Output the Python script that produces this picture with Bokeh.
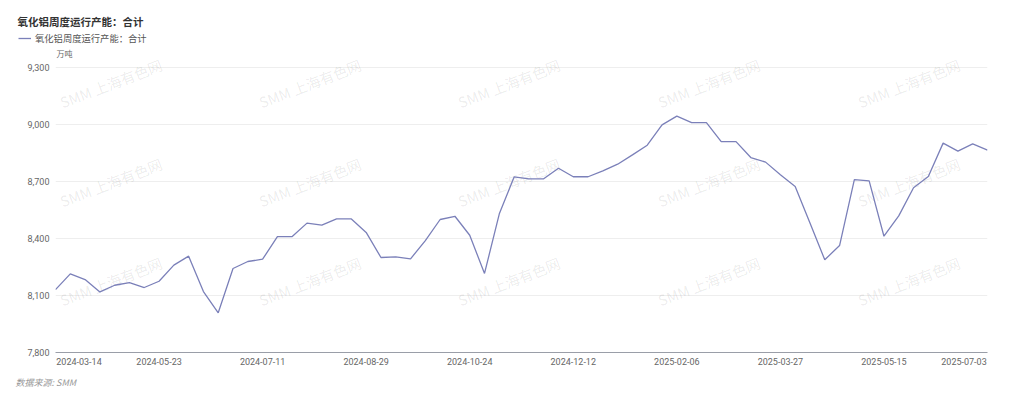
from bokeh.plotting import figure
from bokeh.layouts import column, row
from bokeh.models import Range1d, FixedTicker, Label, Legend, LegendItem, NumeralTickFormatter
from bokeh.embed import file_html
from bokeh.resources import INLINE

title_text = "氧化铝周度运行产能：合计"
series_name = "氧化铝周度运行产能：合计"
unit_text = "万吨"
source_text = "数据来源: SMM"
watermark_text = "SMM 上海有色网"

dates = [
    "2024-03-14", "2024-03-28", "2024-04-11", "2024-04-18", "2024-04-25", "2024-05-09", "2024-05-16", "2024-05-23",
    "2024-05-30", "2024-06-06", "2024-06-13", "2024-06-20", "2024-06-27", "2024-07-04", "2024-07-11",
    "2024-07-18", "2024-07-25", "2024-08-01", "2024-08-08", "2024-08-15", "2024-08-22", "2024-08-29",
    "2024-09-05", "2024-09-12", "2024-09-19", "2024-09-26", "2024-10-10", "2024-10-17", "2024-10-24",
    "2024-10-31", "2024-11-07", "2024-11-14", "2024-11-21", "2024-11-28", "2024-12-05", "2024-12-12",
    "2024-12-19", "2024-12-26", "2025-01-02", "2025-01-09", "2025-01-16", "2025-01-23", "2025-02-06",
    "2025-02-13", "2025-02-20", "2025-02-27", "2025-03-06", "2025-03-13", "2025-03-20", "2025-03-27",
    "2025-04-03", "2025-04-10", "2025-04-17", "2025-04-24", "2025-05-01", "2025-05-08", "2025-05-15",
    "2025-05-22", "2025-05-29", "2025-06-05", "2025-06-12", "2025-06-19", "2025-06-26", "2025-07-03",
]

values = [
    8131, 8214, 8184, 8119, 8154, 8168, 8142, 8175, 8260, 8307,
    8121, 8009, 8242, 8279, 8291, 8410, 8410, 8481, 8470, 8503,
    8503, 8432, 8300, 8303, 8293, 8389, 8500, 8517, 8417, 8216,
    8530, 8724, 8714, 8714, 8770, 8725, 8725, 8756, 8791, 8840,
    8891, 8998, 9044, 9010, 9010, 8910, 8910, 8826, 8802, 8735,
    8674, 8481, 8288, 8363, 8710, 8703, 8412, 8519, 8667, 8726,
    8902, 8860, 8898, 8865,
]

x_tick_index = [0, 7, 14, 21, 28, 35, 42, 49, 56, 63]
y_ticks = [7800, 8100, 8400, 8700, 9000, 9300]

FONT = "Noto Sans CJK SC"
NUM_FONT = "Roboto"
LINE_COLOR = "#7b80b9"

W = 1024
HEAD_H, MAIN_H, FOOT_H = 45, 327, 27
LEFT, RIGHT, MAIN_BOTTOM = 55, 37, 20
FRAME_TOP_PAGE = HEAD_H                               # 45
FRAME_BOTTOM_PAGE = HEAD_H + MAIN_H - MAIN_BOTTOM     # 352
GRID_TOP_PAGE = 67                                    # where the top tick sits

# ---------------- header (title, legend) ----------------
head = figure(width=W, height=HEAD_H, output_backend="svg", toolbar_location=None,
              title_location=None, x_axis_location=None, y_axis_location=None,
              x_range=Range1d(0, 1), y_range=Range1d(0, 1), min_border=0)
head.outline_line_color = None
head.xgrid.visible = False
head.ygrid.visible = False

head.add_layout(Label(x=17, y=HEAD_H - 21, x_units="screen", y_units="screen", text=title_text,
                      text_baseline="middle", text_align="left", text_font=FONT, text_font_size="10.5px",
                      text_font_style="bold", text_color="#333333"))

# legend swatch renderer (draws nothing itself; only lends its style to the legend)
legend_glyph = head.line(x=[0], y=[float("nan")], line_color=LINE_COLOR, line_width=1.3)
legend = Legend(items=[LegendItem(label=series_name, renderers=[legend_glyph])],
                location=(18, HEAD_H - 38 - 7), orientation="horizontal",
                background_fill_alpha=0, border_line_color=None, padding=0, margin=0, spacing=0,
                glyph_width=13, glyph_height=14, label_standoff=4, label_height=14,
                label_text_font=FONT, label_text_font_size="9.3px", label_text_color="#555555")
head.add_layout(legend)

# ---------------- main chart ----------------
idx = list(range(len(values)))
n_int = len(values) - 1
px_per_idx = (W - LEFT - RIGHT) / n_int
edge_shift = 23.5 / px_per_idx  # first/last labels sit inside the axis ends

units_per_px = (y_ticks[-1] - y_ticks[0]) / (FRAME_BOTTOM_PAGE - GRID_TOP_PAGE)
y_end = y_ticks[-1] + (GRID_TOP_PAGE - FRAME_TOP_PAGE) * units_per_px

p = figure(width=W, height=MAIN_H, output_backend="svg", toolbar_location=None,
           title_location=None,
           x_range=Range1d(0, n_int), y_range=Range1d(y_ticks[0], y_end),
           min_border_left=LEFT, min_border_right=RIGHT, min_border_top=0,
           min_border_bottom=MAIN_BOTTOM)
p.outline_line_color = None
p.background_fill_color = "white"
p.border_fill_color = "white"

r = p.line(idx, values, line_color=LINE_COLOR, line_width=1.3)

ticks = list(x_tick_index)
ticks[0] = x_tick_index[0] + edge_shift
ticks[-1] = x_tick_index[-1] - edge_shift
p.xaxis.ticker = FixedTicker(ticks=ticks)
p.xaxis.major_label_overrides = {t: dates[i] for t, i in zip(ticks, x_tick_index)}
p.xaxis.axis_line_color = "#9a9ea8"
p.xaxis.major_tick_line_color = None
p.xaxis.minor_tick_line_color = None
p.xaxis.major_tick_out = 0
p.xaxis.major_tick_in = 0
p.xaxis.major_label_standoff = 5
p.xaxis.major_label_text_font = NUM_FONT
p.xaxis.major_label_text_font_size = "9px"
p.xaxis.major_label_text_color = "#666666"

p.yaxis.ticker = FixedTicker(ticks=y_ticks)
p.yaxis.formatter = NumeralTickFormatter(format="0,0")
p.yaxis.axis_line_color = None
p.yaxis.major_tick_line_color = None
p.yaxis.minor_tick_line_color = None
p.yaxis.major_tick_out = 0
p.yaxis.major_tick_in = 0
p.yaxis.major_label_standoff = 6
p.yaxis.major_label_text_font = NUM_FONT
p.yaxis.major_label_text_font_size = "9px"
p.yaxis.major_label_text_color = "#666666"

p.xgrid.visible = False
p.ygrid.grid_line_color = "#eeeeee"

# unit label above the value axis
p.add_layout(Label(x=1, y=FRAME_BOTTOM_PAGE - 53, x_units="screen", y_units="screen", text=unit_text,
                   text_baseline="middle", text_align="left", text_font=FONT, text_font_size="8px",
                   text_color="#666666"))

# background watermark pattern
for py in [102, 201, 300]:
    for px in [60, 259, 458, 658, 858]:
        p.add_layout(Label(x=px - LEFT, y=FRAME_BOTTOM_PAGE - py, x_units="screen", y_units="screen",
                           text=watermark_text, angle=21, angle_units="deg",
                           text_baseline="alphabetic", text_align="left",
                           text_font=FONT, text_font_size="14.5px", text_color="#000000", text_alpha=0.085,
                           level="underlay"))

# ---------------- footer ----------------
foot = figure(width=W, height=FOOT_H, output_backend="svg", toolbar_location=None,
              title_location=None, x_axis_location=None, y_axis_location=None,
              x_range=Range1d(0, 1), y_range=Range1d(0, 1), min_border=0)
foot.outline_line_color = None
foot.xgrid.visible = False
foot.ygrid.visible = False
foot.add_layout(Label(x=15, y=FOOT_H - 9.5, x_units="screen", y_units="screen", text=source_text,
                      text_baseline="middle", text_align="left", text_font=FONT, text_font_size="9px",
                      text_font_style="italic", text_color="#999999"))

# header and footer are wrapped in their own rows so that their frames are not aligned to the chart's
layout = column(row(head, spacing=0), p, row(foot, spacing=0), spacing=0)
open("out.html", "w").write(file_html(layout, INLINE))
